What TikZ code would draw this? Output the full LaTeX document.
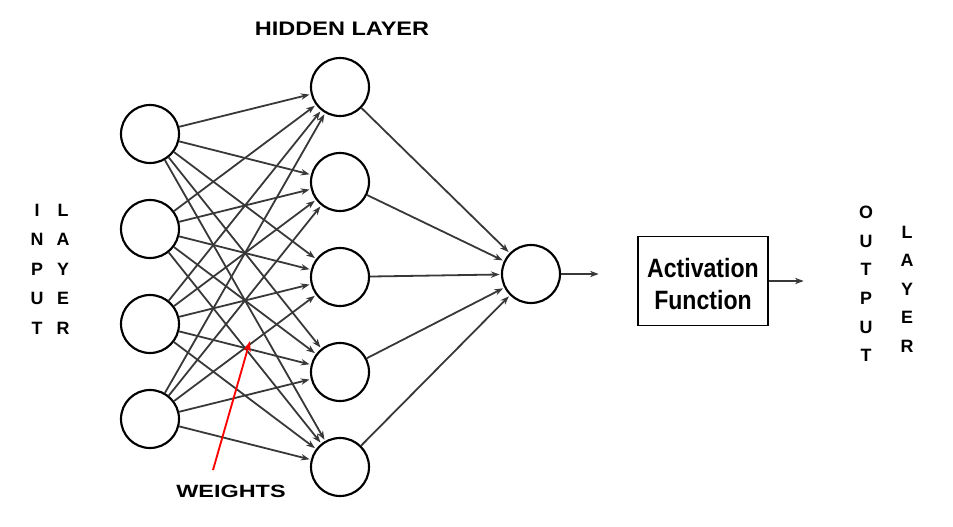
\documentclass[tikz,border=0pt]{standalone}
\usepackage{fontspec}
\setmainfont{Liberation Sans}
\usetikzlibrary{arrows.meta}
\begin{document}
\begin{tikzpicture}[x=0.75pt,y=-0.75pt,
  neuron/.style={circle,draw=black,line width=1.6pt,minimum size=43.5pt,inner sep=0pt},
  conn/.style={draw=black!78,line width=1.35pt,-{Stealth[length=6.5pt,width=4.8pt]},shorten >=1pt},
  redarrow/.style={draw=red,line width=1.4pt,-{Stealth[length=8pt,width=5.5pt]}},
  actbox/.style={draw=black,line width=1.4pt,minimum width=97.5pt,minimum height=66.75pt,inner sep=0pt},
  vlabel/.style={font=\bfseries\fontsize{13.4}{22.1}\selectfont,align=center,inner sep=0pt},
  vlabelb/.style={font=\bfseries\fontsize{13.4}{21.4}\selectfont,align=center,inner sep=0pt}]
\useasboundingbox (0,0) rectangle (953,527);

% input layer
\node[neuron] (i1) at (150,134) {};
\node[neuron] (i2) at (150,229) {};
\node[neuron] (i3) at (150,324) {};
\node[neuron] (i4) at (150,419) {};
% hidden layer
\node[neuron] (h1) at (340,87) {};
\node[neuron] (h2) at (340,182) {};
\node[neuron] (h3) at (340,277) {};
\node[neuron] (h4) at (340,372) {};
\node[neuron] (h5) at (340,467) {};
% output neuron
\node[neuron] (o) at (531,274) {};

\foreach \i in {1,...,4}{
  \foreach \h in {1,...,5}{
    \draw[conn] (i\i) -- (h\h);
  }
}
\foreach \h in {1,...,5}{
  \draw[conn] (h\h) -- (o);
}

\coordinate (oend) at (600,274);
\draw[conn] (o.east) -- (oend);

\node[actbox] (act) at (703,281) {\raisebox{-9.5pt}[0pt][0pt]{\fontsize{19.9}{24}\selectfont\bfseries\scalebox{0.87}[1]{\begin{tabular}{@{}c@{}}Activation\\Function\end{tabular}}}};
\coordinate (aend) at (805,281);
\draw[conn] (act.east) -- (aend);

% labels
\node[inner sep=0pt,font=\bfseries\fontsize{14.7}{17}\selectfont] (hl) at (342,29) {\scalebox{1.2}[1]{HIDDEN LAYER}};
\node[inner sep=0pt,font=\bfseries\fontsize{13.3}{16}\selectfont] (wt) at (231,491) {\scalebox{1.32}[1]{WEIGHTS}};

\coordinate (wstart) at (213,470);
\coordinate (wtip) at (250,341);
\draw[redarrow] (wstart) -- (wtip);

\node[vlabel] (inp) at (37,269) {I\\N\\P\\U\\T};
\node[vlabel] (inl) at (63,269) {L\\A\\Y\\E\\R};
\node[vlabelb] (outp) at (866,284) {O\\U\\T\\P\\U\\T};
\node[vlabelb] (outl) at (907,289) {L\\A\\Y\\E\\R};
\end{tikzpicture}
\end{document}
